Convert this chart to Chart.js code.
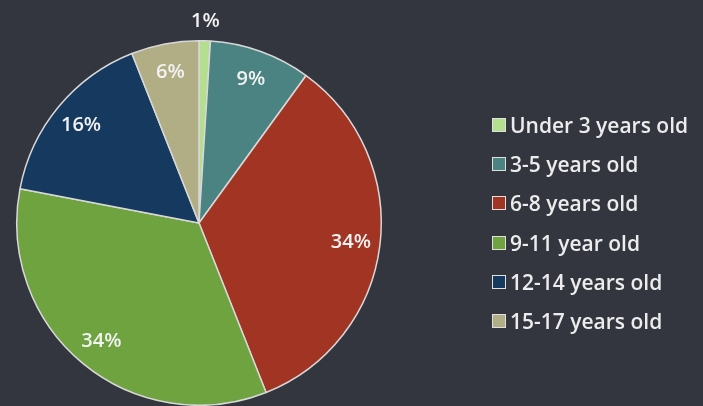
<!DOCTYPE html>
<html>
<head>
<meta charset="utf-8">
<script src="https://cdn.jsdelivr.net/npm/chart.js@4.4.0/dist/chart.umd.min.js"></script>
<style>
  html, body { margin: 0; padding: 0; background: #33363f; }
  #wrap { position: relative; width: 703px; height: 406px; overflow: hidden; }
  #legend { position: absolute; left: 492px; top: 105px; font-family: "Open Sans", sans-serif; font-weight: 600; font-size: 21px; color: #ececec; }
  .item { height: 39.3px; display: flex; align-items: center; }
  .box { width: 14px; height: 14px; border: 1px solid #e0e0e0; box-sizing: border-box; margin-right: 4px; }
</style>
</head>
<body>
<div id="wrap">
  <canvas id="chart" width="703" height="406"></canvas>
  <div id="legend"></div>
</div>
<script>
const categories = ['Under 3 years old', '3-5 years old', '6-8 years old', '9-11 year old', '12-14 years old', '15-17 years old'];
const shares = [1, 9, 34, 34, 16, 6];
const sliceColors = ['#b3df8e', '#4b8282', '#a23424', '#6ea33f', '#16395f', '#b1ae86'];

// percent labels sitting inside each slice (outside for the tiny one)
const pctLabels = {
  id: 'pctLabels',
  afterDatasetsDraw(chart) {
    const ctx = chart.ctx;
    const meta = chart.getDatasetMeta(0);
    ctx.save();
    ctx.font = '600 20px "Open Sans", sans-serif';
    ctx.fillStyle = '#f2f2f2';
    ctx.textAlign = 'center';
    ctx.textBaseline = 'middle';
    meta.data.forEach((arc, i) => {
      const p = arc.getProps(['x', 'y', 'startAngle', 'endAngle', 'outerRadius'], true);
      const mid = (p.startAngle + p.endAngle) / 2;
      const f = shares[i] < 3 ? 1.11 : 0.84;
      ctx.fillText(shares[i] + '%', p.x + Math.cos(mid) * p.outerRadius * f, p.y + Math.sin(mid) * p.outerRadius * f);
    });
    ctx.restore();
  }
};

new Chart(document.getElementById('chart').getContext('2d'), {
  type: 'pie',
  data: {
    labels: categories,
    datasets: [{
      data: shares,
      backgroundColor: sliceColors,
      borderColor: '#d8d8d8',
      borderWidth: 1.5
    }]
  },
  options: {
    responsive: false,
    animation: false,
    layout: { padding: { left: 16, right: 321, top: 40, bottom: 0 } },
    plugins: {
      legend: { display: false },
      tooltip: { enabled: false }
    }
  },
  plugins: [pctLabels]
});

const legend = document.getElementById('legend');
categories.forEach((name, i) => {
  const row = document.createElement('div');
  row.className = 'item';
  row.innerHTML = '<span class="box" style="background:' + sliceColors[i] + '"></span><span>' + name + '</span>';
  legend.appendChild(row);
});
</script>
</body>
</html>
